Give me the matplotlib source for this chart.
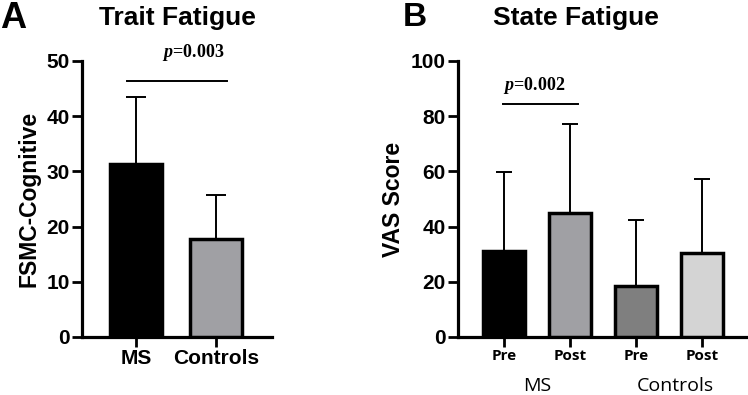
import matplotlib
matplotlib.use("Agg")
import matplotlib.pyplot as plt

# panel A: trait fatigue
trait_groups = ["MS", "Controls"]
trait_mean = [31.3, 17.8]
trait_sd = [12.2, 8.0]
trait_colors = ["#000000", "#a0a0a4"]

# panel B: state fatigue
state_ticks = ["Pre", "Post", "Pre", "Post"]
state_groups = ["MS", "Controls"]
state_mean = [31.2, 44.8, 18.6, 30.3]
state_sd = [28.7, 32.3, 23.8, 26.8]
state_colors = ["#000000", "#a0a0a4", "#7f7f7f", "#d4d4d4"]

plt.rcParams["font.family"] = ["Liberation Sans", "DejaVu Sans"]
plt.rcParams["font.weight"] = "bold"
plt.rcParams["mathtext.fontset"] = "custom"
plt.rcParams["mathtext.it"] = "Liberation Serif:italic:bold"
plt.rcParams["mathtext.rm"] = "Liberation Serif:bold"

fig = plt.figure(figsize=(7.48, 3.95), dpi=100)
W, H = 748, 395


def style_axis(ax):
    for s in ["top", "right"]:
        ax.spines[s].set_visible(False)
    for s in ["left", "bottom"]:
        ax.spines[s].set_linewidth(2.3)
    ax.tick_params(axis="both", width=2.0, length=7, pad=2)
    for lab in ax.get_yticklabels():
        lab.set_fontsize(15)
        lab.set_fontweight("bold")


# ---- panel A ----
axA = fig.add_axes([82 / W, 1 - 337 / H, (272 - 82) / W, (337 - 61) / H])
xa = list(range(len(trait_groups)))
axA.bar(xa, trait_mean, width=0.65, color=trait_colors, edgecolor="black",
        linewidth=2.5, zorder=3)
axA.errorbar(xa, trait_mean, yerr=[[0] * len(xa), trait_sd], fmt="none",
             ecolor="black", elinewidth=1.4, capsize=7, capthick=1.4, zorder=2)
axA.set_xlim(-0.675, 1.7)
axA.set_ylim(0, 50)
axA.set_yticks([0, 10, 20, 30, 40, 50])
axA.set_xticks(xa)
axA.set_xticklabels(trait_groups, fontsize=15, fontweight="bold")
axA.set_ylabel("FSMC-Cognitive", fontsize=16.5, fontweight="bold", labelpad=4)
style_axis(axA)
axA.plot([-0.11, 1.14], [46.4, 46.4], color="black", lw=1.4, clip_on=False)
axA.text(0.71, 51.6, r"$p$=0.003", ha="center", va="center",
         fontsize=13, family=["Liberation Serif"], fontweight="bold")
fig.text(177 / W, 1 - 18 / H, "Trait Fatigue", ha="center", va="center",
         fontsize=19, fontweight="bold")
fig.text(0 / W, 1 - 18 / H, "A", ha="left", va="center",
         fontsize=26, fontweight="bold")

# ---- panel B ----
axB = fig.add_axes([458 / W, 1 - 337 / H, (748 - 458) / W, (337 - 61) / H])
xb = list(range(len(state_ticks)))
axB.bar(xb, state_mean, width=0.63, color=state_colors, edgecolor="black",
        linewidth=2.5, zorder=3)
axB.errorbar(xb, state_mean, yerr=[[0] * len(xb), state_sd], fmt="none",
             ecolor="black", elinewidth=1.4, capsize=6, capthick=1.4, zorder=2)
axB.set_xlim(-0.70, 3.70)
axB.set_ylim(0, 100)
axB.set_yticks([0, 20, 40, 60, 80, 100])
axB.set_xticks(xb)
axB.set_xticklabels(state_ticks, fontsize=11, fontweight="bold",
                    family=["Open Sans", "DejaVu Sans"])
axB.set_ylabel("VAS Score", fontsize=16.5, fontweight="bold", labelpad=4)
style_axis(axB)
axB.plot([-0.02, 1.12], [84.4, 84.4], color="black", lw=1.4, clip_on=False)
axB.text(0.45, 91, r"$p$=0.002", ha="center", va="center",
         fontsize=13, family=["Liberation Serif"], fontweight="bold")
for gx, g in zip([0.5, 2.6], state_groups):
    axB.text(gx, -17.6, g, ha="center", va="center", fontsize=14,
             fontweight="normal", family=["Open Sans", "DejaVu Sans"],
             clip_on=False)
fig.text(576 / W, 1 - 18 / H, "State Fatigue", ha="center", va="center",
         fontsize=19, fontweight="bold")
fig.text(403 / W, 1 - 17 / H, "B", ha="left", va="center",
         fontsize=24, fontweight="bold")

fig.savefig("out.png", dpi=100)
